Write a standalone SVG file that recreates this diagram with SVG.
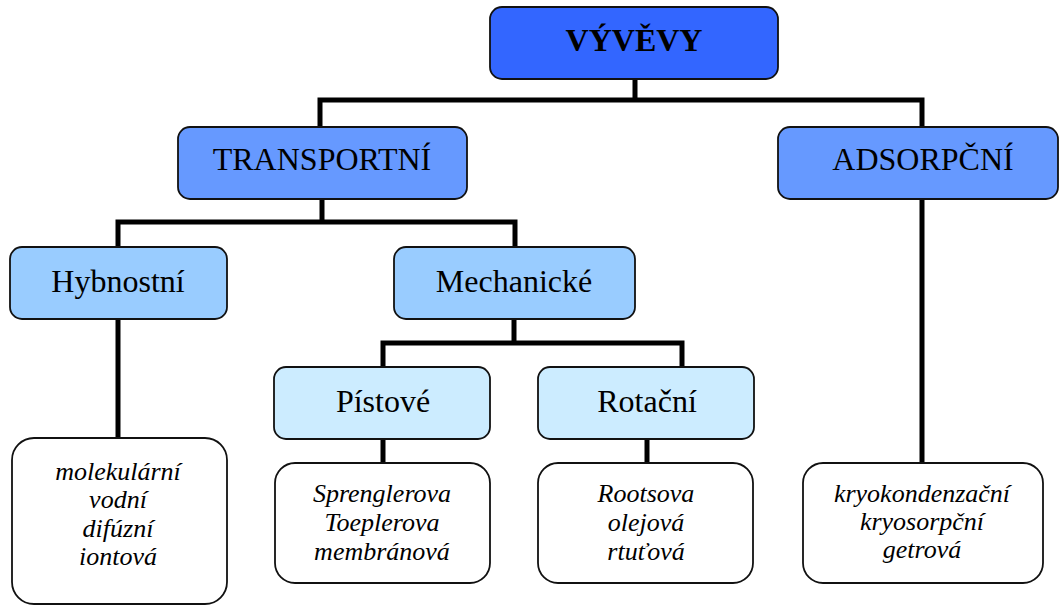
<svg xmlns="http://www.w3.org/2000/svg" width="1060" height="605" viewBox="0 0 1060 605">
<style>
.box{stroke:#111;stroke-width:1.8}
.l0{fill:#3366FF}.l1{fill:#6699FF}.l2{fill:#99CCFF}.l3{fill:#CCECFF}.lw{fill:#FFFFFF}
.t{font-size:32px;fill:#000;text-anchor:middle}
.b{font-weight:bold}
.i{font-size:26px;font-style:italic;fill:#000;text-anchor:middle}
.c{fill:none;stroke:#000;stroke-width:5;stroke-linecap:square;stroke-linejoin:miter}
</style>
<rect width="1060" height="605" fill="#fff"/>
<g id="connectors">
<path class="c" d="M635 79V100M320 127V100H922V127"/>
<path class="c" d="M322 199V222M118 247V222H515V247"/>
<path class="c" d="M118 319V438"/>
<path class="c" d="M514 319V343M383 367V343H682V367"/>
<path class="c" d="M383 439V463"/>
<path class="c" d="M647 439V463"/>
<path class="c" d="M922 199V463"/>
</g>
<g font-family="Liberation Serif, Times New Roman, DejaVu Serif, serif">
<g id="vyvevy"><rect class="box l0" x="490" y="7" width="288" height="72" rx="12"/><text class="t b" x="634" y="51">VÝVĚVY</text></g>
<g id="transportni"><rect class="box l1" x="178" y="127" width="289" height="72" rx="12"/><text class="t" x="322" y="170">TRANSPORTNÍ</text></g>
<g id="adsorpcni"><rect class="box l1" x="778" y="127" width="280" height="72" rx="12"/><text class="t" x="923" y="170">ADSORPČNÍ</text></g>
<g id="hybnostni"><rect class="box l2" x="10" y="247" width="217" height="72" rx="12"/><text class="t" x="118" y="292">Hybnostní</text></g>
<g id="mechanicke"><rect class="box l2" x="394" y="247" width="241" height="72" rx="12"/><text class="t" x="514" y="292">Mechanické</text></g>
<g id="pistove"><rect class="box l3" x="274" y="367" width="216" height="72" rx="12"/><text class="t" x="383" y="412">Pístové</text></g>
<g id="rotacni"><rect class="box l3" x="538" y="367" width="216" height="72" rx="12"/><text class="t" x="647" y="412">Rotační</text></g>
<g id="hybnostni-list"><rect class="box lw" x="12" y="438" width="215" height="166" rx="22"/>
<text class="i" x="118" y="480">molekulární</text><text class="i" x="118" y="508">vodní</text><text class="i" x="118" y="537">difúzní</text><text class="i" x="118" y="565">iontová</text></g>
<g id="pistove-list"><rect class="box lw" x="275" y="463" width="215" height="120" rx="20"/>
<text class="i" x="382" y="502">Sprenglerova</text><text class="i" x="382" y="531">Toeplerova</text><text class="i" x="382" y="560">membránová</text></g>
<g id="rotacni-list"><rect class="box lw" x="538" y="463" width="215" height="120" rx="20"/>
<text class="i" x="646" y="502">Rootsova</text><text class="i" x="646" y="531">olejová</text><text class="i" x="646" y="560">rtuťová</text></g>
<g id="adsorpcni-list"><rect class="box lw" x="803" y="463" width="240" height="120" rx="20"/>
<text class="i" x="922" y="502">kryokondenzační</text><text class="i" x="922" y="530">kryosorpční</text><text class="i" x="922" y="558">getrová</text></g>
</g>
</svg>
